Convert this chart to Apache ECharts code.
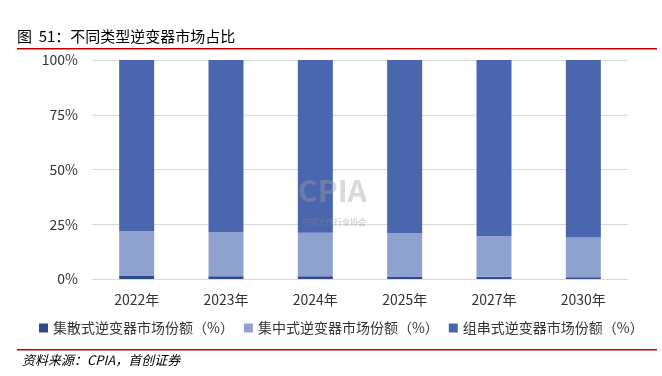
<!DOCTYPE html>
<html>
<head>
<meta charset="utf-8">
<script src="https://cdn.jsdelivr.net/npm/echarts@6/dist/echarts.min.js"></script>
<style>
  html, body { margin: 0; padding: 0; background: #fff; }
  #chart { width: 662px; height: 376px; }
</style>
</head>
<body>
<div id="chart"></div>
<script>
var years = ['2022年', '2023年', '2024年', '2025年', '2027年', '2030年'];
var jiSan = [1.6, 1.3, 1.2, 1.1, 1.0, 0.8];       // 集散式
var jiZhong = [20.3, 20.2, 19.9, 19.8, 18.6, 18.2]; // 集中式
var zuChuan = [78.1, 78.5, 78.9, 79.1, 80.4, 81.0]; // 组串式
var seriesNames = ['集散式逆变器市场份额（%）', '集中式逆变器市场份额（%）', '组串式逆变器市场份额（%）'];

var font = '"Noto Sans CJK SC", "Noto Sans", sans-serif';

var option = {
    animation: false,
    textStyle: { fontFamily: font },
    grid: { left: 92, right: 34, top: 60, bottom: 97 },
    graphic: [
        { type: 'text', left: 17, top: 29,
          style: { text: '图  51：不同类型逆变器市场占比', font: '15px ' + font, fill: '#000' } },
        { type: 'rect', shape: { x: 17, y: 48, width: 640, height: 1.5 }, style: { fill: '#c00000' } },
        { type: 'rect', shape: { x: 17, y: 349, width: 640, height: 1.5 }, style: { fill: '#c00000' } },
        { type: 'text', left: 22, top: 354,
          style: { text: '资料来源：CPIA，首创证券', font: 'italic 13px ' + font, fill: '#000' } },
        // CPIA watermark
        { type: 'text', left: 298, top: 176, z: 100,
          style: { text: 'CPIA', font: 'bold 30px ' + font, fill: 'rgba(160,160,160,0.4)' } },
        { type: 'text', left: 302, top: 218, z: 100,
          style: { text: '中国光伏行业协会', font: '8px ' + font, fill: 'rgba(140,140,140,0.5)' } }
    ],
    legend: {
        bottom: 36,
        left: 34,
        itemWidth: 9,
        itemHeight: 9,
        itemGap: 10,
        icon: 'rect',
        textStyle: { fontSize: 14, color: '#333', fontFamily: font },
        data: seriesNames
    },
    xAxis: {
        type: 'category',
        data: years,
        axisLine: { lineStyle: { color: '#d9d9d9' } },
        axisTick: { show: false },
        axisLabel: { fontSize: 14, color: '#333', margin: 14 }
    },
    yAxis: {
        type: 'value',
        min: 0,
        max: 100,
        interval: 25,
        axisLabel: { formatter: '{value}%', fontSize: 14, color: '#333', margin: 14 },
        splitLine: { lineStyle: { color: '#d9d9d9' } },
        axisLine: { show: false },
        axisTick: { show: false }
    },
    series: [
        { name: seriesNames[0], type: 'bar', stack: 'a', data: jiSan, barWidth: 35,
          itemStyle: { color: '#2f4b8c' } },
        { name: seriesNames[1], type: 'bar', stack: 'a', data: jiZhong, barWidth: 35,
          itemStyle: { color: '#8fa2cf' } },
        { name: seriesNames[2], type: 'bar', stack: 'a', data: zuChuan, barWidth: 35,
          itemStyle: { color: '#4966ae' } }
    ]
};
var myChart = echarts.init(document.getElementById('chart'));
myChart.setOption(option);
</script>
</body>
</html>
